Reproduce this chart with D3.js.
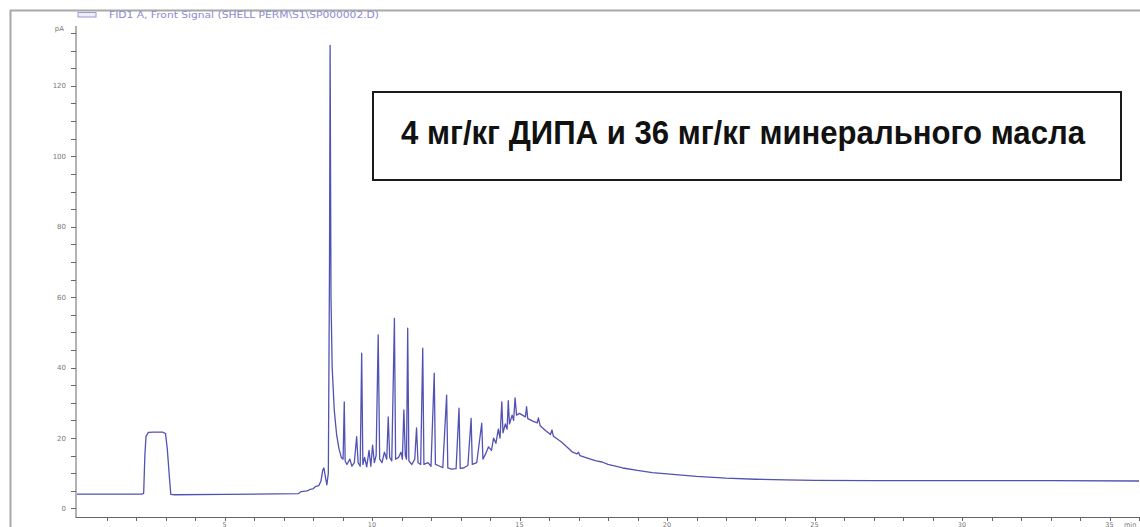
<!DOCTYPE html>
<html><head><meta charset="utf-8">
<script src="https://cdn.jsdelivr.net/npm/d3@7"></script>
<style>
html,body{margin:0;padding:0;background:#fff;overflow:hidden;}
svg{display:block;}
</style></head>
<body>
<svg id="chart" width="1140" height="527"></svg>
<script>
// ---- data ----
const legendLabel = "FID1 A, Front Signal (SHELL PERM\\S1\\SP000002.D)";
const yUnit = "pA";
const xUnit = "min";
const annotation = "4 мг/кг ДИПА и 36 мг/кг минерального масла";
const xMajorTicks = [5, 10, 15, 20, 25, 30, 35];
const yMajorTicks = [0, 20, 40, 60, 80, 100, 120];
const retentionTime = [
  0.0, 1.0, 2.2, 2.26, 2.30, 2.34, 2.42, 2.6, 2.9, 3.0, 3.06, 3.14, 3.18, 3.3, 5.0,
  7.5, 7.6, 7.8, 7.9, 8.0, 8.1, 8.2, 8.27, 8.33, 8.37, 8.42, 8.47, 8.52, 8.56, 8.58,
  8.61, 8.65, 8.72, 8.8, 8.88, 8.96, 9.02, 9.06, 9.09, 9.15, 9.25, 9.32, 9.4, 9.48,
  9.53, 9.6, 9.65, 9.69, 9.75, 9.82, 9.9, 9.96, 10.02, 10.08, 10.14, 10.21, 10.26,
  10.34, 10.42, 10.5, 10.55, 10.6, 10.67, 10.76, 10.8, 10.9, 10.98, 11.03, 11.08,
  11.13, 11.17, 11.21, 11.25, 11.35, 11.45, 11.51, 11.56, 11.65, 11.72, 11.76, 11.9,
  12.0, 12.11, 12.15, 12.3, 12.4, 12.53, 12.57, 12.7, 12.85, 12.95, 12.99, 13.1,
  13.25, 13.36, 13.4, 13.55, 13.72, 13.76, 13.85, 13.95, 14.05, 14.12, 14.2, 14.28,
  14.34, 14.40, 14.44, 14.52, 14.58, 14.62, 14.66, 14.75, 14.80, 14.85, 14.9, 15.0,
  15.1, 15.2, 15.24, 15.28, 15.45, 15.6, 15.64, 15.7, 15.9, 16.05, 16.1, 16.15, 16.4,
  16.6, 16.8, 16.95, 17.0, 17.05, 17.3, 17.6, 17.8, 18.0, 18.5, 19.0, 19.5, 20.0,
  21.0, 22.0, 23.0, 24.0, 25.0, 27.0, 30.0, 33.0, 36.0
];
const signal = [
  4.1, 4.1, 4.1, 4.3, 15, 20.5, 21.6, 21.7, 21.7, 21.3, 17, 8, 4.0, 3.9, 4.0,
  4.2, 4.8, 5.0, 5.4, 5.6, 6.3, 6.5, 7.8, 10.9, 11.5, 9, 6.7, 10, 70, 131.5,
  60, 40, 28, 21, 17, 14.5, 14, 30.3, 13.5, 12.5, 14, 12, 13, 20.4,
  13, 12, 44.1, 12.5, 14.5, 11.8, 16.5, 12, 18, 13, 15, 49.3, 14,
  13, 16, 14, 26, 14.5, 13.5, 54, 14, 14.5, 16, 14, 28,
  15, 14, 51.2, 13.5, 12.5, 14, 22.9, 13, 12.5, 45.5, 12.5, 13,
  12, 38.4, 12.5, 12, 11.6, 32.2, 11.5, 11.2, 11.3, 28.5, 11.4, 11.5,
  12.2, 25.6, 12.5, 13, 24.2, 14, 15.5, 17.5, 16.5, 20, 18.5, 22.5,
  20, 30.3, 21.5, 24, 22.5, 30.6, 24, 26.5, 25, 31.4, 26.5, 27.0,
  26.5, 26, 28.9, 25.5, 24.8, 24.3, 25.7, 23.5, 22, 21, 22.3, 20.5, 19,
  17.5, 16, 15.5, 16, 15, 14.3, 13.5, 13.2, 12.5, 11.5, 10.8, 10.2, 9.8,
  9.1, 8.6, 8.3, 8.1, 8.0, 7.9, 7.9, 7.9, 7.8
];

// ---- chart ----
const svg = d3.select("#chart");
const x = d3.scaleLinear().domain([0, 36]).range([77, 1139]);
const y = d3.scaleLinear().domain([-2.7, 137]).range([518, 26]);

// outer frame
svg.append("path").attr("d", "M10.5,527 L10.5,10.5 L1140,10.5")
  .attr("fill", "none").attr("stroke", "#a8a8a8").attr("stroke-width", 2);

// legend
svg.append("rect").attr("x", 78).attr("y", 12.5).attr("width", 18).attr("height", 4.5)
  .attr("fill", "#eeeef8").attr("stroke", "#9a9ad0").attr("stroke-width", 1);
svg.append("text").attr("x", 109).attr("y", 18).attr("font-family", "DejaVu Sans")
  .attr("font-size", 8).attr("fill", "#8a8ad0").attr("textLength", 270)
  .attr("lengthAdjust", "spacingAndGlyphs").text(legendLabel);

const axisColor = "#666";
const labelColor = "#777";

// y axis
const yAxis = svg.append("g").attr("transform", "translate(76,0)");
yAxis.append("line").attr("x1", 0).attr("x2", 0).attr("y1", y(137)).attr("y2", 518)
  .attr("stroke", axisColor).attr("stroke-width", 1);
yAxis.selectAll(".ytk").data(d3.range(0, 136, 5)).join("line")
  .attr("x1", -5).attr("x2", 0).attr("y1", d => Math.round(y(d)) + 0.5).attr("y2", d => Math.round(y(d)) + 0.5)
  .attr("stroke", axisColor);
yAxis.selectAll(".ylb").data(yMajorTicks).join("text")
  .attr("x", -10).attr("y", d => y(d) + 2.5).attr("text-anchor", "end")
  .attr("font-family", "DejaVu Sans").attr("font-size", 7).attr("fill", labelColor)
  .text(d => d);
yAxis.append("text").attr("x", -12).attr("y", 31).attr("text-anchor", "end")
  .attr("font-family", "DejaVu Sans").attr("font-size", 7).attr("fill", labelColor).text(yUnit);

// x axis
const xAxis = svg.append("g");
xAxis.append("line").attr("x1", 76).attr("x2", 1140).attr("y1", 517.5).attr("y2", 517.5)
  .attr("stroke", axisColor).attr("stroke-width", 1);
xAxis.selectAll(".xtk").data(d3.range(1, 37, 1)).join("line")
  .attr("x1", d => Math.round(x(d)) + 0.5).attr("x2", d => Math.round(x(d)) + 0.5)
  .attr("y1", 517.5).attr("y2", 521).attr("stroke", axisColor);
xAxis.selectAll(".xlb").data(xMajorTicks).join("text")
  .attr("x", d => x(d)).attr("y", 526.5).attr("text-anchor", "middle")
  .attr("font-family", "DejaVu Sans").attr("font-size", 6.5).attr("fill", labelColor)
  .text(d => d);
xAxis.append("text").attr("x", 1124).attr("y", 526.5)
  .attr("font-family", "DejaVu Sans").attr("font-size", 6.5).attr("fill", labelColor).text(xUnit);

// chromatogram trace
const pts = retentionTime.map((t, i) => [t, signal[i]]);
const line = d3.line().x(d => x(d[0])).y(d => y(d[1]));
svg.append("path").datum(pts).attr("d", line)
  .attr("fill", "none").attr("stroke", "#5252b4").attr("stroke-width", 1.3)
  .attr("stroke-linejoin", "round");

// annotation box
svg.append("rect").attr("x", 373).attr("y", 92).attr("width", 748).attr("height", 88)
  .attr("fill", "#fff").attr("stroke", "#1a1a1a").attr("stroke-width", 2);
svg.append("text").attr("x", 401).attr("y", 144)
  .attr("font-family", "'Liberation Sans Narrow', 'Arial Narrow', 'Liberation Sans', sans-serif")
  .attr("font-weight", "bold").attr("font-size", 33).attr("fill", "#111")
  .attr("textLength", 684).attr("lengthAdjust", "spacingAndGlyphs")
  .text(annotation);
</script>
</body></html>
